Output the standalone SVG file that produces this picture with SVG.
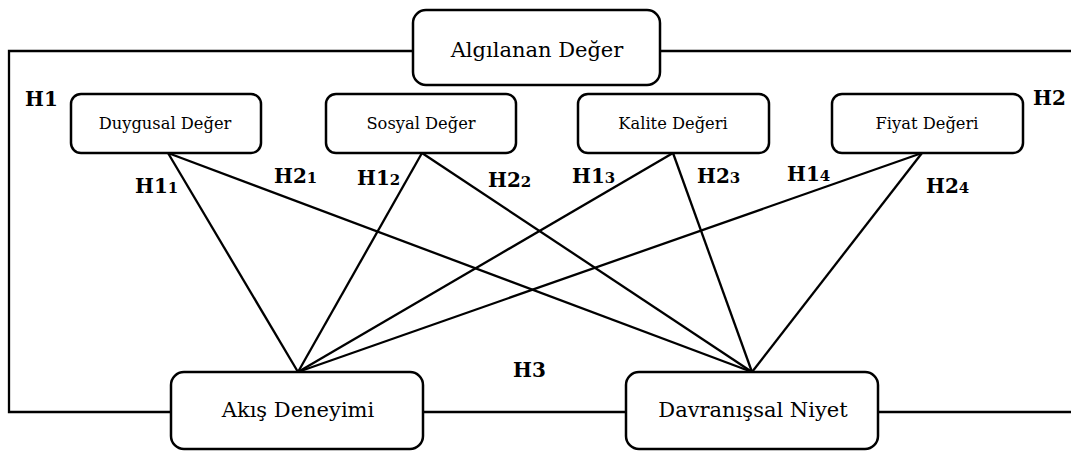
<svg xmlns="http://www.w3.org/2000/svg" width="1071" height="454" viewBox="0 0 1071 454">
<style>
.box{fill:#fff;stroke:#000;stroke-width:2.5}
.ln{fill:none;stroke:#000;stroke-width:2.3}
.big{font-family:"DejaVu Serif","Liberation Serif",serif;font-size:21px;fill:#000;text-anchor:middle}
.sm{font-family:"DejaVu Serif","Liberation Serif",serif;font-size:16.3px;fill:#000;text-anchor:middle}
.lab{font-family:"DejaVu Serif","Liberation Serif",serif;font-size:20px;font-weight:bold;fill:#000}
.sub{font-size:15px}
</style>
<rect width="1071" height="454" fill="#fff"/>
<g id="connectors">
<polyline class="ln" points="413,51 9,51 9,412 171,412"/>
<line class="ln" x1="660" y1="51" x2="1071" y2="51"/>
<line class="ln" x1="423" y1="412" x2="626" y2="412"/>
<line class="ln" x1="878" y1="412" x2="1071" y2="412"/>
<line class="ln" x1="168" y1="153" x2="298" y2="372"/>
<line class="ln" x1="168" y1="153" x2="752" y2="372"/>
<line class="ln" x1="422" y1="153" x2="298" y2="372"/>
<line class="ln" x1="422" y1="153" x2="752" y2="372"/>
<line class="ln" x1="673" y1="153" x2="298" y2="372"/>
<line class="ln" x1="673" y1="153" x2="752" y2="372"/>
<line class="ln" x1="922" y1="153" x2="298" y2="372"/>
<line class="ln" x1="922" y1="153" x2="752" y2="372"/>
</g>
<g id="labels">
<text class="lab" x="25" y="106">H1</text>
<text class="lab" x="1033" y="105">H2</text>
<text class="lab" x="513" y="377">H3</text>
<text class="lab" x="135" y="193">H1<tspan class="sub">1</tspan></text>
<text class="lab" x="274" y="183">H2<tspan class="sub">1</tspan></text>
<text class="lab" x="357" y="185">H1<tspan class="sub">2</tspan></text>
<text class="lab" x="488" y="187">H2<tspan class="sub">2</tspan></text>
<text class="lab" x="572" y="183">H1<tspan class="sub">3</tspan></text>
<text class="lab" x="697" y="183">H2<tspan class="sub">3</tspan></text>
<text class="lab" x="787" y="181">H1<tspan class="sub">4</tspan></text>
<text class="lab" x="926" y="193">H2<tspan class="sub">4</tspan></text>
</g>
<g id="algilanan-deger">
<rect class="box" x="413" y="10" width="247" height="75" rx="13"/>
<text class="big" x="537" y="57">Algılanan Değer</text>
</g>
<g id="duygusal-deger">
<rect class="box" x="71" y="94" width="190" height="59" rx="10"/>
<text class="sm" x="165" y="129">Duygusal Değer</text>
</g>
<g id="sosyal-deger">
<rect class="box" x="326" y="94" width="190" height="59" rx="10"/>
<text class="sm" x="421" y="129">Sosyal Değer</text>
</g>
<g id="kalite-degeri">
<rect class="box" x="578" y="94" width="191" height="59" rx="10"/>
<text class="sm" x="673" y="129">Kalite Değeri</text>
</g>
<g id="fiyat-degeri">
<rect class="box" x="832" y="94" width="191" height="59" rx="10"/>
<text class="sm" x="927" y="129">Fiyat Değeri</text>
</g>
<g id="akis-deneyimi">
<rect class="box" x="171" y="372" width="252" height="77" rx="13"/>
<text class="big" x="298" y="417" font-size="21.5">Akış Deneyimi</text>
</g>
<g id="davranissal-niyet">
<rect class="box" x="626" y="372" width="252" height="77" rx="13"/>
<text class="big" x="753" y="417" font-size="21.5">Davranışsal Niyet</text>
</g>
</svg>
